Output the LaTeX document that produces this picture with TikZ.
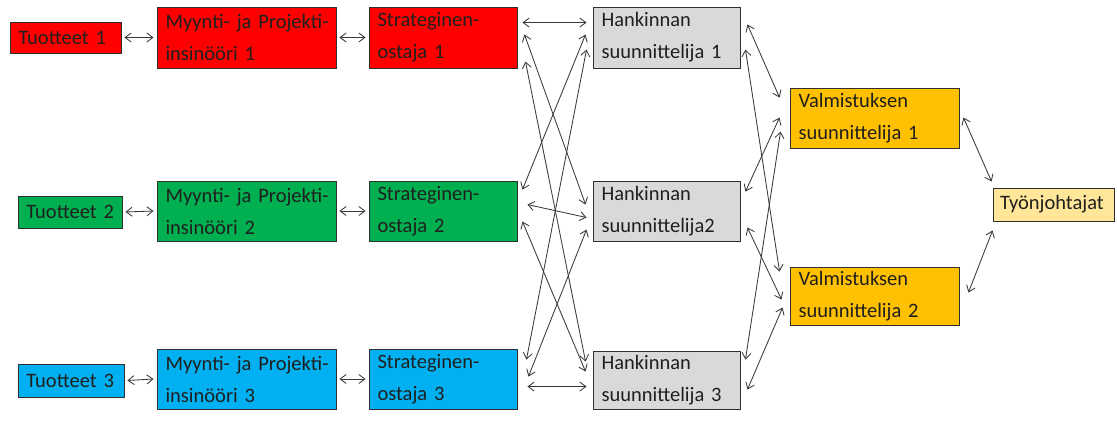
\documentclass[tikz,border=0pt]{standalone}
\usepackage{fontspec}
\setmainfont{Carlito}
\usetikzlibrary{arrows.meta,calc}
\definecolor{cred}{HTML}{FF0000}
\definecolor{cgreen}{HTML}{00B050}
\definecolor{cblue}{HTML}{00B0F0}
\definecolor{cgray}{HTML}{D9D9D9}
\definecolor{corange}{HTML}{FFC000}
\definecolor{cyellow}{HTML}{FFE699}
\definecolor{cline}{HTML}{3A3A3A}
\definecolor{cborder}{HTML}{2F2F2F}
\newcommand{\twolines}[2]{\vspace*{5pt}#1\\#2}
\tikzset{
  box/.style={draw=cborder, line width=0.9pt, font=\fontsize{20.5}{27}\selectfont,
    align=left, inner xsep=8.5pt, inner ysep=0pt, anchor=center, text=black!88,
    execute at begin node={\exhyphenpenalty=10000 \hyphenpenalty=10000 }},
  con/.style={draw=cline, line width=0.85pt,
    {Straight Barb[length=6pt,width=9pt]}-{Straight Barb[length=6pt,width=9pt]}}
}
\begin{document}
\begin{tikzpicture}[x=1pt,y=-1pt]
\fill[white] (0,0) rectangle (1117,427);
\useasboundingbox (0,0) rectangle (1117,427);
% row 1
\node[box, fill=cred, text width=94pt, minimum height=31pt] (t1) at (65.5,37.5) {Tuotteet~1};
\node[box, fill=cred, text width=162pt, minimum height=61pt] (m1) at (246.5,37.5) {\twolines{Myynti-~ja~Projekti-}{insinööri~1}};
\node[box, fill=cred, text width=131pt, minimum height=61pt] (s1) at (443,37.5) {\twolines{Strateginen-}{ostaja~1}};
\node[box, fill=cgray, text width=130pt, minimum height=61pt] (h1) at (666.5,37.5) {\twolines{Hankinnan}{suunnittelija~1}};
% row 2
\node[box, fill=cgreen, text width=87pt, minimum height=32pt] (t2) at (70,212) {Tuotteet~2};
\node[box, fill=cgreen, text width=162pt, minimum height=60pt] (m2) at (246.5,211) {\twolines{Myynti-~ja~Projekti-}{insinööri~2}};
\node[box, fill=cgreen, text width=131pt, minimum height=60pt] (s2) at (443,211) {\twolines{Strateginen-}{ostaja~2}};
\node[box, fill=cgray, text width=130pt, minimum height=60pt] (h2) at (666.5,211) {\twolines{Hankinnan}{suunnittelija2}};
% row 3
\node[box, fill=cblue, text width=89pt, minimum height=33pt] (t3) at (71,380.5) {Tuotteet~3};
\node[box, fill=cblue, text width=162pt, minimum height=60pt] (m3) at (246.5,379) {\twolines{Myynti-~ja~Projekti-}{insinööri~3}};
\node[box, fill=cblue, text width=131pt, minimum height=60pt] (s3) at (443,379) {\twolines{Strateginen-}{ostaja~3}};
\node[box, fill=cgray, text width=130pt, minimum height=58pt] (h3) at (666.5,380) {\twolines{Hankinnan}{suunnittelija~3}};
% right side
\node[box, fill=corange, text width=152pt, minimum height=60pt] (v1) at (874.5,118) {\twolines{Valmistuksen}{suunnittelija~1}};
\node[box, fill=corange, text width=152pt, minimum height=58pt] (v2) at (874.5,296) {\twolines{Valmistuksen}{suunnittelija~2}};
\node[box, fill=cyellow, inner xsep=7pt, text width=107pt, minimum height=33pt] (tj) at (1053.5,204.5) {Työnjohtajat};
% left chains
\draw[con] ($(t1.east)+(3,0)$) -- ($(m1.west)+(-3,0)$);
\draw[con] ($(m1.east)+(3,0)$) -- ($(s1.west)+(-3,0)$);
\draw[con] ($(t2.east)+(3,0)$) -- ($(m2.west)+(-3,0)$);
\draw[con] ($(m2.east)+(3,0)$) -- ($(s2.west)+(-3,0)$);
\draw[con] ($(t3.east)+(3,0)$) -- ($(m3.west)+(-3,0)$);
\draw[con] ($(m3.east)+(3,0)$) -- ($(s3.west)+(-3,0)$);
% strateginen <-> hankinnan
\draw[con] ($(s1.north east)+(5,16)$) -- ($(h1.north west)+(-6,16)$);
\draw[con] ($(s1.north east)+(7,28)$) -- ($(h2.north west)+(-7,24)$);
\draw[con] ($(s1.north east)+(8,55)$) -- ($(h3.north west)+(-7,11)$);
\draw[con] ($(h1.north west)+(-7,28)$) -- ($(s2.north east)+(5,9)$);
\draw[con] ($(h1.north west)+(-6,43)$) -- ($(s3.north east)+(9,11)$);
\draw[con] ($(s2.north east)+(10,24)$) -- ($(h2.north west)+(-6,37)$);
\draw[con] ($(s2.north east)+(5,41)$) -- ($(h3.north west)+(-7,21)$);
\draw[con] ($(h2.north west)+(-6,49)$) -- ($(s3.north east)+(11,28)$);
\draw[con] ($(s3.north east)+(10,38)$) -- ($(h3.north west)+(-6,36)$);
% hankinnan <-> valmistuksen
\draw[con] ($(h1.north east)+(7,18)$) -- ($(v1.north west)+(-10,10)$);
\draw[con] ($(h1.north east)+(5,43)$) -- ($(v2.north west)+(-10,5)$);
\draw[con] ($(h2.north east)+(5,11)$) -- ($(v1.north west)+(-10,30)$);
\draw[con] ($(h2.north east)+(7,47)$) -- ($(v2.north west)+(-8,33)$);
\draw[con] ($(h3.north east)+(5,9)$) -- ($(v1.north west)+(-9,44)$);
\draw[con] ($(h3.north east)+(7,39)$) -- ($(v2.north west)+(-7,41)$);
% valmistuksen <-> tyonjohtajat
\draw[con] ($(v1.north east)+(4,30)$) -- ($(tj.north west)+(-1,-6)$);
\draw[con] ($(v2.north east)+(9,26)$) -- ($(tj.south west)+(0,9)$);
\end{tikzpicture}
\end{document}
